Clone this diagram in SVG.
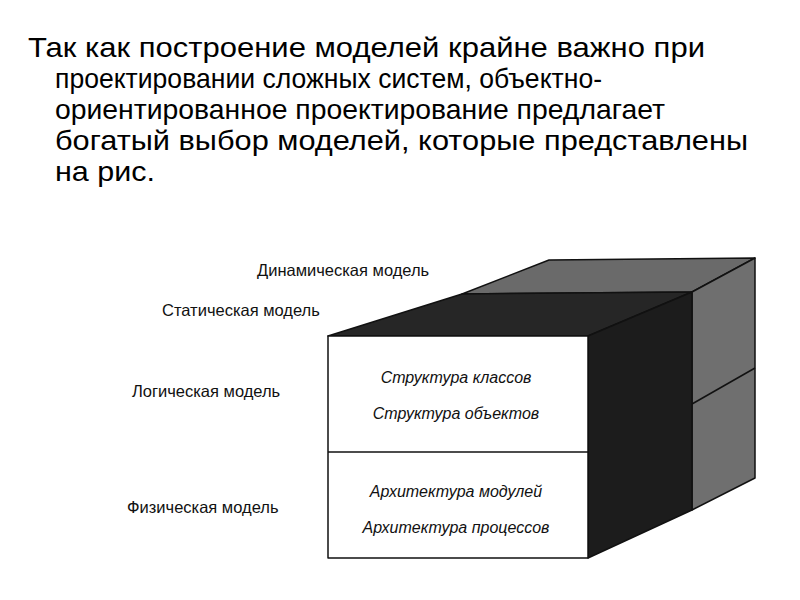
<svg xmlns="http://www.w3.org/2000/svg" width="800" height="600" viewBox="0 0 800 600">
<style>
.t{font-family:"Liberation Sans",Arial,sans-serif;font-size:28px;fill:#000}
.l{font-family:"Liberation Sans",Arial,sans-serif;font-size:16.5px;fill:#111}
.i{font-family:"Liberation Sans",Arial,sans-serif;font-size:16px;font-style:italic;fill:#111}
.e{stroke:#111;stroke-width:1.5;stroke-linejoin:round}
</style>
<rect width="800" height="600" fill="#fff"/>
<g id="paragraph">
<text class="t" x="28" y="57" textLength="677" lengthAdjust="spacingAndGlyphs">Так как построение моделей крайне важно при</text>
<text class="t" x="55" y="88" textLength="547" lengthAdjust="spacingAndGlyphs">проектировании сложных систем, объектно-</text>
<text class="t" x="55" y="119" textLength="610" lengthAdjust="spacingAndGlyphs">ориентированное проектирование предлагает</text>
<text class="t" x="55" y="150" textLength="693" lengthAdjust="spacingAndGlyphs">богатый выбор моделей, которые представлены</text>
<text class="t" x="55" y="181" textLength="100" lengthAdjust="spacingAndGlyphs">на рис.</text>
</g>
<g id="cube">
<polygon class="e" points="462,294 549,260 755,258 692,292" fill="#6a6a6a"/>
<polygon class="e" points="328,336 462,294 692,292 588,336" fill="#262626"/>
<polygon class="e" points="692,292 755,258 755,478 692,510" fill="#6f6f6f"/>
<line class="e" x1="692" y1="404" x2="755" y2="368"/>
<polygon class="e" points="588,336 692,292 692,510 588,558" fill="#1c1c1c"/>
<rect class="e" x="328" y="336" width="260" height="222" fill="#fff"/>
<line class="e" x1="328" y1="452" x2="588" y2="452"/>
</g>
<g id="labels">
<text class="l" x="257" y="276">Динамическая модель</text>
<text class="l" x="162" y="316">Статическая модель</text>
<text class="l" x="132" y="397">Логическая модель</text>
<text class="l" x="127" y="513">Физическая модель</text>
<text class="i" x="456" y="383" text-anchor="middle">Структура классов</text>
<text class="i" x="456" y="419" text-anchor="middle">Структура объектов</text>
<text class="i" x="456" y="497" text-anchor="middle">Архитектура модулей</text>
<text class="i" x="456" y="533" text-anchor="middle">Архитектура процессов</text>
</g>
</svg>
